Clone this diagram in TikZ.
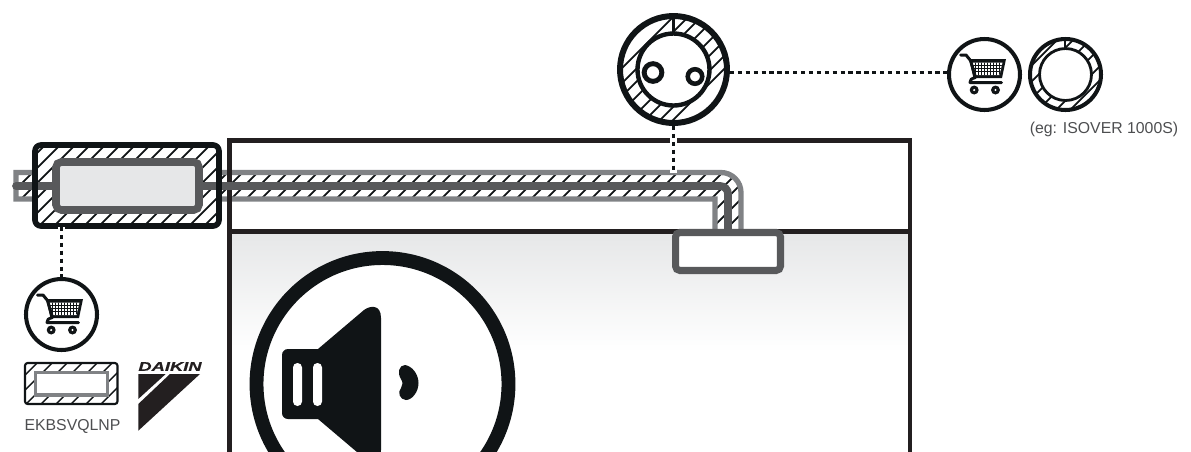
\documentclass[tikz,border=0pt]{standalone}
\usepackage{fontspec}
\setmainfont{Liberation Sans}
\newfontfamily\logofont[FakeStretch=1.45,FakeBold=0.6]{Liberation Sans}
\definecolor{KInk}{HTML}{101416}
\definecolor{KFrame}{HTML}{231F20}
\definecolor{KSteel}{HTML}{808285}
\definecolor{KSlate}{HTML}{58595B}
\definecolor{KPale}{HTML}{E6E7E8}
\definecolor{KLabel}{HTML}{4D4E50}
\usetikzlibrary{positioning}
\tikzset{
  ring/.style={circle,draw=KInk,inner sep=0pt,line width=2.3pt,minimum size=1.42cm},
  panel/.style={rectangle,inner sep=0pt,outer sep=0pt},
  hatchline/.style={KInk,line width=1pt},
  dotlink/.style={KInk,line width=1.6pt,dash pattern=on 2.4pt off 2.1pt,
    preaction={draw=white,solid,line width=4pt}},
  tag/.style={KLabel,font=\fontsize{9pt}{11pt}\selectfont},
  carticon/.pic={
    \fill[KInk] (-15.5,-15.5) -- (21.5,-15.5) -- (17.5,3.5) -- (-11,3.5) -- cycle;
    \begin{scope}
      \fill[white] (-12.5,-12) -- (18,-12) -- (15,0.5) -- (-9.5,0.5) -- cycle;
      \clip (-12.5,-12) -- (18,-12) -- (15,0.5) -- (-9.5,0.5) -- cycle;
      \foreach \x in {-12,-9,...,18}{\draw[KInk,line width=0.55pt] (\x,-13) -- (\x,1);}
      \foreach \y in {-9,-6,-3}{\draw[KInk,line width=0.55pt] (-13,\y) -- (19,\y);}
    \end{scope}
    \draw[KInk,line width=1.7pt,line cap=round,line join=round]
      (-24,-19.5) -- (-18.5,-19.5) -- (-14,-14) -- (-9,3)
      .. controls (-13,4) and (-15,5.5) .. (-14.5,8) -- (17,8);
    \foreach \x in {-10.3,11}{
      \fill[KInk] (\x,15.5) circle (4.5);
      \fill[white] (\x,15.5) circle (1.2);
    }
  }
}
\begin{document}
\begin{tikzpicture}[x=0.02cm,y=-0.02cm]
  \clip (0,0) rectangle (1191,451);
  % room below the ceiling void
  \shade[top color=KPale,bottom color=white] (229,233) rectangle (910,352);
  % duct with its insulation
  \begin{scope}
    \clip (16,172.5) -- (721,172.5) .. controls (732,172.5) and (741,181.5) .. (741,192.5)
      -- (741,232) -- (715,232) -- (715,199) -- (16,199) -- cycle;
    \foreach \c in {190,205,...,985}{\draw[hatchline] (\c,0) -- (0,\c);}
  \end{scope}
  \draw[KSteel,line width=3pt] (741,232) -- (741,192.5)
    .. controls (741,181.5) and (732,172.5) .. (721,172.5) -- (16,172.5)
    -- (16,199) -- (715,199) -- (715,232);
  % frame
  \draw[KFrame,line width=2.8pt] (229.5,460) -- (229.5,140.5) -- (910,140.5) -- (910,460);
  \draw[KFrame,line width=2.8pt] (229.5,231.5) -- (910,231.5);
  % wall sleeve
  \node[panel,fill=white,rounded corners=3.4pt,minimum width=3.68cm,minimum height=1.62cm]
    (sleeve) at (127,185.5) {};
  \begin{scope}
    \clip[rounded corners=3.4pt] (sleeve.north west) rectangle (sleeve.south east);
    \foreach \c in {175,190,...,460}{\draw[hatchline] (\c,0) -- (0,\c);}
  \end{scope}
  \draw[KSlate,line width=4.4pt,line cap=round,rounded corners=4.5pt] (16,186) -- (728,186) -- (728,232);
  \draw[KInk,line width=3.2pt,rounded corners=3.4pt] (sleeve.north west) rectangle (sleeve.south east);
  \node[panel,draw=KSlate,fill=KPale,line width=4.3pt,rounded corners=3pt,
    minimum width=2.86cm,minimum height=0.96cm] (sleevecore) at (127.5,186) {};
  % indoor unit connection
  \node[panel,draw=KSlate,fill=white,line width=4pt,rounded corners=2.5pt,
    minimum width=2.1cm,minimum height=0.76cm] (port) at (728,251.5) {};
  % duct cross section
  \begin{scope}[even odd rule]
    \clip (673.5,69.5) circle (53.5) (673.5,69.5) circle (36);
    \foreach \c in {690,705,718,733,750,765,780,793}{\draw[hatchline] (\c,0) -- (0,\c);}
    \draw[KInk,line width=1.4pt] (673.5,13) -- (673.5,32);
  \end{scope}
  \node[ring,line width=3.4pt,minimum size=2.14cm] (socket) at (673.5,69.5) {};
  \node[ring,line width=2.5pt,minimum size=1.44cm] (socketcore) at (673.5,69.5) {};
  \node[ring,line width=2.8pt,minimum size=0.354cm] (holeleft) at (653,72.5) {};
  \node[ring,line width=2.6pt,minimum size=0.29cm] (holeright) at (695,76.5) {};
  % wrap for the duct
  \begin{scope}[even odd rule]
    \clip (1065.5,74.5) circle (35.5) (1065.5,74.5) circle (26);
    \foreach \c in {1097,1113,1130,1148,1166,1180}{\draw[hatchline] (\c,0) -- (0,\c);}
    \draw[KInk,line width=1.2pt] (1065,38) -- (1065,50);
  \end{scope}
  \node[ring] (cartright) at (984.5,74.5) {};
  \pic at (cartright) {carticon};
  \node[ring] (wrapouter) at (1065.5,74.5) {};
  \node[ring,line width=1.6pt,minimum size=1.04cm] (wrapinner) at (1065.5,74.5) {};
  \node[tag] (wraptag) at (1104,129.5) {(eg: ISOVER 1000S)};
  % accessory kit
  \node[ring] (cartleft) at (61.5,314.5) {};
  \pic at (cartleft) {carticon};
  \node[panel,rounded corners=1.5pt,minimum width=1.85cm,minimum height=0.82cm] (kit) at (71.25,383.5) {};
  \begin{scope}
    \clip[rounded corners=1.5pt] (kit.north west) rectangle (kit.south east);
    \foreach \c in {385,400,...,520}{\draw[hatchline,line width=0.8pt] (\c,0) -- (0,\c);}
  \end{scope}
  \draw[KInk,line width=1.2pt,rounded corners=1.5pt] (kit.north west) rectangle (kit.south east);
  \node[panel,draw=KSteel,fill=white,line width=1.8pt,minimum width=1.44cm,minimum height=0.45cm]
    (kitcore) at (71.5,383.75) {};
  \node[tag] (kittag) at (72.5,426.5) {EKBSVQLNP};
  % brand mark
  \node[KFrame,inner sep=0pt,font=\logofont\bfseries\itshape\fontsize{7.2pt}{9pt}\selectfont]
    (brand) at (170,366.5) {DAIKIN};
  \fill[KFrame] (138.3,374) -- (165.7,374) -- (138.3,399) -- cycle;
  \fill[KFrame] (170,374) -- (200,374) -- (138.3,430.7) -- (138.3,404) -- cycle;
  % speaker
  \node[circle,draw=KInk,fill=white,inner sep=0pt,line width=7.9pt,minimum size=5.04cm]
    (speaker) at (382.5,384) {};
  \fill[KInk,rounded corners=3.4pt] (282,349) rectangle (330,419);
  \fill[KInk] (318,349) -- (364,310) .. controls (370,305.5) and (381,304) .. (381,318)
    -- (381,450) .. controls (381,464) and (370,462.5) .. (364,458) -- (318,419) -- cycle;
  \fill[white,rounded corners=2.5pt] (293,363) rectangle (302,406);
  \fill[white,rounded corners=2.5pt] (313,363) rectangle (322,406);
  \fill[KInk] (405,365) .. controls (412,366) and (418.5,374) .. (418.5,383)
    .. controls (418.5,392) and (412,400) .. (406,400)
    .. controls (400,400) and (397,392) .. (401,388)
    .. controls (403,385.5) and (403,382) .. (401,379)
    .. controls (397,373) and (399,365) .. (405,365) -- cycle;
  % links
  \coordinate (ducttop) at (673.5,172.5);
  \coordinate (sleevefoot) at (61.5,227);
  \draw[dotlink] (socket) -- (ducttop);
  \draw[dotlink] (socket.-3) -- (socket.-3 -| cartright.west);
  \draw[dotlink] (sleevefoot) -- (cartleft);
\end{tikzpicture}
\end{document}
